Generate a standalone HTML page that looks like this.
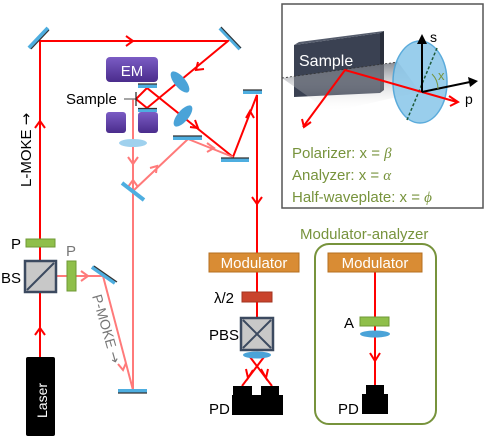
<!DOCTYPE html>
<html><head><meta charset="utf-8"><style>
html,body{margin:0;padding:0;background:#fff}
svg{display:block}
text{font-family:"Liberation Sans","DejaVu Sans",sans-serif}
.ar{font-family:"DejaVu Sans",sans-serif}
</style></head><body>
<svg width="486" height="442" viewBox="0 0 486 442" xmlns="http://www.w3.org/2000/svg">
<defs>
<linearGradient id="em" x1="0" y1="0" x2="0" y2="1"><stop offset="0" stop-color="#7b5cc4"/><stop offset="1" stop-color="#4a2c8c"/></linearGradient>
<linearGradient id="pl" x1="0" y1="0" x2="0" y2="1"><stop offset="0" stop-color="#6b6f78" stop-opacity="0.8"/><stop offset="1" stop-color="#ffffff" stop-opacity="0"/></linearGradient>
</defs>
<g fill="none" stroke-width="2">
<polyline stroke="#f00" points="40,357 40,41 228,41 147,108 136,99 147,88 233,157 257,95 257,253"/>
<line stroke="#f00" x1="257" y1="272" x2="257" y2="318"/>
<line stroke="#f00" x1="250" y1="357" x2="272" y2="386"/>
<line stroke="#f00" x1="264" y1="357" x2="242" y2="386"/>
<line stroke="#f00" x1="375" y1="272" x2="375" y2="385"/>
<g stroke="#ff7a7a">
<polyline points="56,276 103,276 133,390 133,99"/>
<polyline points="133,191 188,139 233,157"/>
</g>
</g>
<g fill="none" stroke="#f00" stroke-width="2">
<polyline points="126,36 133,41 126,46"/>
<polyline points="35,128 40,121 45,128"/>
<polyline points="35,335 40,328 45,335"/>
<polyline points="198,62 196,70 204,69"/>
<polyline points="190,127 198,128 195,120"/>
<polyline points="246,118 250,111 254,118"/>
<polyline points="252,197 257,204 262,197"/>
<polyline points="370,353 375,361 380,353"/>
<polyline points="261,369 266,378 268,369"/>
<polyline points="246,369 248,378 253,370"/>
</g>
<g fill="none" stroke="#ff7a7a" stroke-width="2">
<polyline points="128,157 133,164 138,157"/>
<polyline points="128,187 133,180 138,187"/>
<polyline points="150,168 157,166 156,173"/>
<polyline points="207,143 214,148 207,152"/>
<polyline points="81,271 88,276 81,281"/>
<polyline points="118,364 123,370 126,363"/>
</g>
<g stroke-linecap="butt">
<g stroke="#4eaee0" stroke-width="4">
<line x1="29" y1="48" x2="48" y2="28"/>
<line x1="220" y1="28" x2="240" y2="49"/>
<line x1="138" y1="86" x2="157" y2="86"/>
<line x1="138" y1="110" x2="157" y2="110"/>
<line x1="173" y1="138" x2="202" y2="138"/>
<line x1="221" y1="160" x2="249" y2="160"/>
<line x1="243" y1="92" x2="262" y2="92"/>
<line x1="122" y1="183" x2="144" y2="200"/>
<line x1="92" y1="267" x2="115" y2="283"/>
<line x1="118" y1="391" x2="147" y2="391"/>
</g>
<g stroke="#333" stroke-width="1.2">
<line x1="31" y1="49" x2="49" y2="30"/>
<line x1="221" y1="27" x2="241" y2="48"/>
<line x1="138" y1="84" x2="157" y2="84"/>
<line x1="138" y1="108.5" x2="157" y2="108.5"/>
<line x1="173" y1="136" x2="202" y2="136"/>
<line x1="221" y1="158" x2="249" y2="158"/>
<line x1="243" y1="90" x2="262" y2="90"/>
<line x1="94" y1="266" x2="117" y2="282"/>
<line x1="118" y1="393" x2="147" y2="393"/>
</g>
</g>
<g fill="#4aa3d8">
<ellipse cx="180" cy="82" rx="5.5" ry="13" transform="rotate(-40 180 82)"/>
<ellipse cx="183" cy="116" rx="5.5" ry="13" transform="rotate(40 183 116)"/>
<ellipse cx="257" cy="355" rx="14" ry="3.5"/>
<ellipse cx="375" cy="334" rx="15" ry="3.5"/>
</g>
<ellipse cx="133" cy="143" rx="14" ry="4" fill="#9fd1ee"/>
<rect x="106" y="57" width="52" height="25" rx="4" fill="url(#em)"/>
<text x="132" y="76" font-size="15" fill="#fff" text-anchor="middle">EM</text>
<rect x="106" y="112" width="20" height="21" rx="3" fill="url(#em)"/>
<rect x="138" y="112" width="20" height="21" rx="3" fill="url(#em)"/>
<text x="66" y="104" font-size="15" fill="#000">Sample</text>
<line x1="124" y1="99" x2="136" y2="99" stroke="#888" stroke-width="1.5"/>
<line x1="136" y1="92" x2="136" y2="106" stroke="#222" stroke-width="1.2"/>
<text transform="translate(31,187) rotate(-90)" font-size="15" fill="#000">L-MOKE <tspan class="ar">→</tspan></text>
<rect x="26" y="239" width="29" height="8" fill="#8fbf4a" stroke="#6f9a35"/>
<text x="11" y="249" font-size="15">P</text>
<rect x="25" y="261" width="31" height="31" fill="#c8c8c8" stroke="#3c4a60" stroke-width="2.5"/>
<line x1="27" y1="290" x2="54" y2="263" stroke="#3c4a60" stroke-width="2"/>
<text x="1" y="283" font-size="15">BS</text>
<rect x="67" y="261" width="9" height="30" fill="#8fbf4a" stroke="#6f9a35"/>
<text x="66" y="256" font-size="15" fill="#777">P</text>
<text transform="translate(92,296) rotate(74)" font-size="14" fill="#777">P-MOKE <tspan class="ar">→</tspan></text>
<rect x="26" y="357" width="29" height="79" rx="2" fill="#000"/>
<text transform="translate(47,418) rotate(-90)" font-size="14" fill="#fff">Laser</text>
<rect x="209" y="253" width="90" height="19" fill="#d98c34" stroke="#b56f20"/>
<text x="254" y="268" font-size="15" fill="#fff" text-anchor="middle">Modulator</text>
<rect x="242" y="292" width="30" height="10" fill="#c9432c" stroke="#a33420"/>
<text x="214" y="303" font-size="15">λ/2</text>
<rect x="241" y="318" width="32" height="32" fill="#c8c8c8" stroke="#3c4a60" stroke-width="2.5"/>
<line x1="243" y1="320" x2="271" y2="348" stroke="#3c4a60" stroke-width="2"/>
<line x1="271" y1="320" x2="243" y2="348" stroke="#3c4a60" stroke-width="2"/>
<text x="209" y="340" font-size="15">PBS</text>
<rect x="233" y="386" width="19" height="10" fill="#000"/>
<rect x="261" y="386" width="18" height="10" fill="#000"/>
<rect x="232" y="395" width="51" height="20" fill="#000"/>
<text x="209" y="414" font-size="15">PD</text>
<text x="300" y="239" font-size="15" fill="#77933c">Modulator-analyzer</text>
<rect x="315" y="244" width="121" height="180" rx="14" fill="none" stroke="#77933c" stroke-width="2"/>
<rect x="328" y="253" width="94" height="19" fill="#d98c34" stroke="#b56f20"/>
<text x="375" y="268" font-size="15" fill="#fff" text-anchor="middle">Modulator</text>
<rect x="360" y="317" width="29" height="9" fill="#8fbf4a" stroke="#6f9a35"/>
<text x="344" y="328" font-size="15">A</text>
<rect x="366" y="385" width="18" height="10" fill="#000"/>
<rect x="362" y="394" width="26" height="20" fill="#000"/>
<text x="338" y="414" font-size="15">PD</text>
<rect x="282" y="4" width="201" height="204" fill="#fff" stroke="#555" stroke-width="1.5"/>
<polygon points="294,45 380,33 380,93 294,97" fill="#3a4152"/>
<polygon points="294,45 299,42 384,31 380,33" fill="#555c6c"/>
<polygon points="380,33 384,31 384,90 380,93" fill="#2a2f3c"/>
<text x="299" y="66" font-size="16" fill="#fff">Sample</text>
<polygon points="282,78 398,62 420,92 330,112" fill="url(#pl)"/>
<line x1="282" y1="78" x2="398" y2="62" stroke="#333" stroke-width="0.8" stroke-dasharray="2,2"/>
<ellipse cx="420" cy="82" rx="27" ry="41" fill="#8fc9ea" stroke="#4aa3d8" stroke-width="1.5" opacity="0.9"/>
<line x1="437" y1="48" x2="407" y2="120" stroke="#1e5a3a" stroke-width="1.5" stroke-dasharray="3,2"/>
<polyline points="303,127 345,70 422,92 457,102" fill="none" stroke="#f00" stroke-width="2"/>
<polyline points="449,96 458,102 450,106" fill="none" stroke="#f00" stroke-width="2"/>
<polyline points="302,119 304,127 311,122" fill="none" stroke="#f00" stroke-width="2"/>
<line x1="422" y1="92" x2="422" y2="42" stroke="#000" stroke-width="2"/>
<polygon points="417,44 422,34 427,44" fill="#000"/>
<line x1="422" y1="92" x2="470" y2="82" stroke="#000" stroke-width="2"/>
<polygon points="468,77 478,81 470,87" fill="#000"/>
<path d="M432,74 Q438,80 438,89" fill="none" stroke="#77933c" stroke-width="1"/>
<text x="430" y="42" font-size="14">s</text>
<text x="465" y="104" font-size="14">p</text>
<text x="438" y="80" font-size="13" fill="#77933c">x</text>
<g font-size="15" fill="#77933c">
<text x="292" y="158">Polarizer: x = <tspan font-style="italic" font-family="Liberation Serif,serif">β</tspan></text>
<text x="292" y="180">Analyzer: x = <tspan font-style="italic" font-family="Liberation Serif,serif">α</tspan></text>
<text x="292" y="202">Half-waveplate: x = <tspan font-style="italic" font-family="Liberation Serif,serif">ϕ</tspan></text>
</g>
</svg>
</body></html>
